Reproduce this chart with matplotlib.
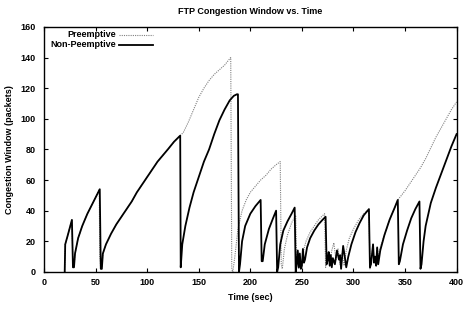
import matplotlib
matplotlib.use("Agg")
import matplotlib.pyplot as plt

# Non-preemptive (solid)
t_np = [20, 20.5, 23, 27, 28, 29, 30, 33, 37, 42, 48, 54, 55, 56, 57, 60, 65, 70, 75, 80, 85, 90, 95, 100,
        105, 110, 115, 120, 126, 132, 132.5, 134, 137, 141, 145, 150, 155, 160, 165, 170, 175, 180, 184, 187,
        188, 189, 190, 192, 195, 200, 205, 210, 211, 212, 214, 218, 222, 225, 226, 227, 229, 232, 236, 240,
        243, 244, 245, 246, 247, 248, 249, 250, 251, 252, 253, 255, 258, 262, 266, 270, 273, 274, 275, 276,
        277, 278, 279, 280, 282, 284, 286, 287, 288, 290, 292, 293, 295, 298, 302, 306, 310, 315, 316, 317,
        319, 320, 321, 322, 323, 324, 326, 330, 335, 340, 343, 344, 345, 348, 352, 356, 360, 364, 365, 366,
        368, 370, 375, 380, 385, 390, 395, 400]
w_np = [0, 18, 24, 34, 3, 3, 12, 22, 30, 38, 46, 54, 2, 2, 12, 18, 25, 31, 36, 41, 46, 52, 57, 62,
        67, 72, 76, 80, 85, 89, 3, 18, 30, 42, 52, 62, 72, 80, 90, 99, 106, 112, 115, 116,
        116, 0, 5, 20, 30, 38, 43, 47, 7, 7, 18, 28, 35, 40, 0, 3, 18, 27, 33, 38,
        42, 0, 5, 14, 3, 12, 2, 4, 15, 6, 8, 16, 22, 27, 31, 34, 36, 5, 8, 13,
        4, 11, 3, 9, 5, 14, 8, 11, 2, 17, 8, 3, 10, 18, 26, 32, 37, 41, 3, 5,
        18, 6, 10, 4, 16, 5, 14, 24, 34, 42, 47, 5, 7, 18, 27, 35, 41, 46, 2, 5,
        20, 30, 45, 55, 64, 73, 82, 90]

# Preemptive (dotted)
t_p = [20, 20.5, 23, 27, 28, 29, 30, 33, 37, 42, 48, 53.5, 54, 55, 56, 57, 60, 65, 70, 75, 80, 85, 90, 95,
       100, 105, 110, 115, 120, 126, 132, 135, 140, 145, 150, 155, 160, 165, 170, 175, 181, 182, 183, 185,
       188, 192, 196, 200, 205, 210, 215, 220, 225, 229, 230, 231, 233, 236, 240, 244, 245, 246, 247, 248,
       250, 252, 254, 258, 262, 266, 272, 273, 275, 277, 279, 281, 283, 285, 287, 289, 291, 293, 296, 300,
       305, 310, 315, 316, 317, 319, 320, 321, 322, 323, 324, 325, 330, 335, 340, 343, 350, 355, 360, 365,
       370, 375, 380, 385, 390, 395, 400]
w_p = [0, 18, 24, 34, 3, 3, 12, 22, 30, 38, 46, 54, 10, 2, 2, 12, 18, 25, 31, 36, 41, 46, 52, 57,
       62, 67, 72, 76, 80, 85, 89, 91, 98, 106, 114, 120, 125, 129, 132, 135, 140, 2, 0, 10,
       28, 40, 47, 52, 56, 60, 63, 67, 70, 72, 5, 2, 15, 24, 32, 37, 5, 12, 2, 8,
       3, 15, 20, 26, 30, 34, 38, 3, 10, 5, 14, 19, 8, 15, 5, 12, 4, 14, 22, 28,
       34, 38, 41, 2, 5, 18, 6, 10, 4, 16, 5, 14, 24, 34, 42, 47, 53, 58, 63, 68,
       74, 81, 88, 94, 100, 106, 111]

series_labels = ['Preemptive', 'Non-Peemptive']
x_ticks = [0, 50, 100, 150, 200, 250, 300, 350, 400]
y_ticks = [0, 20, 40, 60, 80, 100, 120, 140, 160]

plt.rcParams['font.family'] = ['Liberation Sans', 'DejaVu Sans']
fig = plt.figure(figsize=(4.64, 3.28), dpi=100)
ax = fig.add_axes([0.095, 0.171, 0.889, 0.747])

styles = [dict(color='#808080', lw=0.8, ls=(0, (1, 1))), dict(color='black', lw=1.3)]
ax.plot(t_p, w_p, **styles[0])
ax.plot(t_np, w_np, **styles[1])

# gnuplot-style key: right-aligned labels followed by line samples
for i, (lab, st) in enumerate(zip(series_labels, styles)):
    yy = 0.967 - i * 0.04
    ax.text(0.1745, yy, lab, transform=ax.transAxes, ha='right', va='center',
            fontsize=6.5, fontweight='bold')
    ax.plot([0.182, 0.264], [yy, yy], transform=ax.transAxes, clip_on=False, **st)

ax.set_xlim(0, 400)
ax.set_ylim(0, 160)
ax.set_xticks(x_ticks)
ax.set_yticks(y_ticks)
ax.tick_params(direction='in', top=True, right=True, labelsize=6.5, length=3, width=0.8)
ax.tick_params(axis='x', pad=4.5)
ax.tick_params(axis='y', pad=6)
for lab in ax.get_xticklabels() + ax.get_yticklabels():
    lab.set_fontweight('bold')
for s in ax.spines.values():
    s.set_linewidth(1.0)

ax.set_title('FTP Congestion Window vs. Time', fontsize=6.5, fontweight='bold', pad=9)
ax.set_xlabel('Time (sec)', fontsize=6.5, fontweight='bold', labelpad=4)
ax.set_ylabel('Congestion Window (packets)', fontsize=6.5, fontweight='bold', labelpad=5)

fig.savefig('out.png', dpi=100)
